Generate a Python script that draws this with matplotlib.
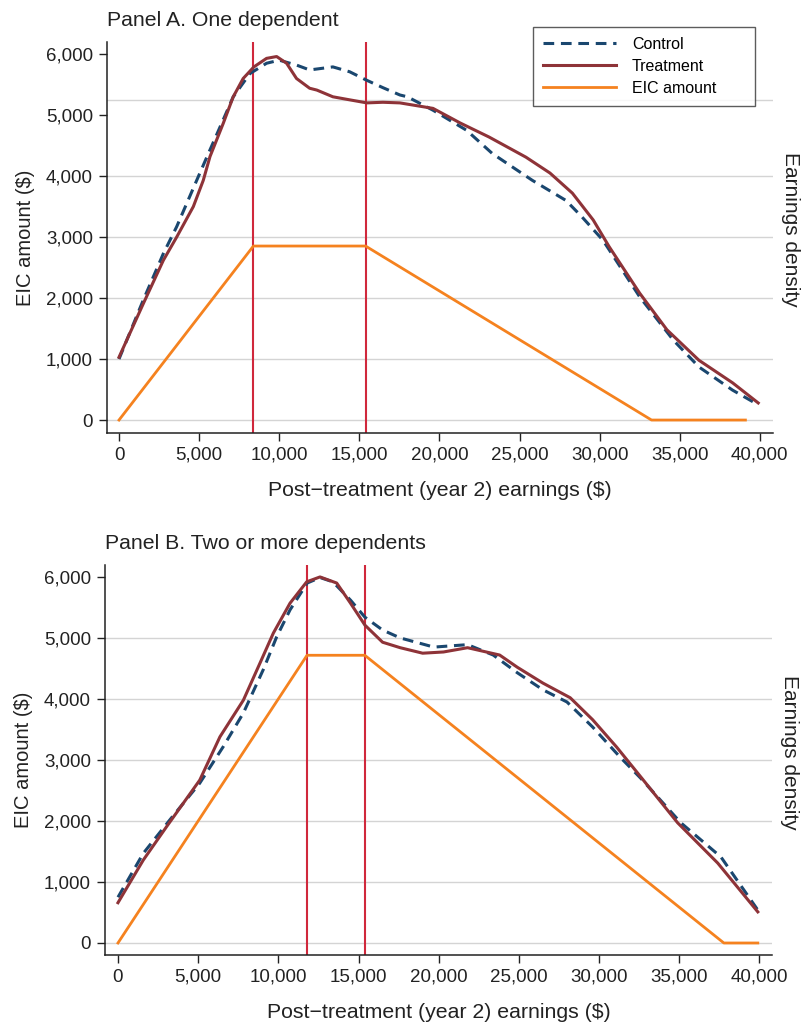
import matplotlib
matplotlib.use("Agg")
from matplotlib import pyplot as plt
import numpy as np

plt.rcParams['font.family'] = ['Liberation Sans', 'DejaVu Sans']

# ---- data (dollars, density shown on EIC scale) ----
# Panel A, one dependent
a_ctrl_x = [0, 1520, 2770, 3600, 4850, 5680, 6500, 7130, 8170, 9210, 10000, 11080, 11900,
            13350, 14400, 15470, 16470, 17530, 18000, 19600, 21700, 23300, 25800,
            27900, 28900, 30200, 30600, 32500, 34600, 36200, 38300, 39900]
a_ctrl_y = [1000, 1970, 2730, 3170, 3930, 4430, 4920, 5300, 5680, 5850, 5900, 5820, 5740,
            5790, 5710, 5570, 5450, 5330, 5300, 5080, 4750, 4370, 3930,
            3600, 3330, 2950, 2790, 2020, 1310, 870, 490, 250]
a_trt_x = [0, 1520, 2770, 3600, 4640, 5260, 5680, 6500, 7130, 7750, 8420, 9210, 9840,
           10460, 11080, 11900, 12350, 13350, 14400, 15470, 16470, 17530, 19600, 21300,
           23100, 25400, 26900, 28300, 29600, 30600, 32500, 34200, 36200, 38300, 39900]
a_trt_y = [1030, 1910, 2620, 3000, 3500, 3930, 4320, 4860, 5300, 5600, 5790, 5930, 5960,
           5850, 5600, 5440, 5410, 5300, 5250, 5200, 5210, 5200, 5110, 4870,
           4640, 4310, 4050, 3720, 3280, 2840, 2080, 1480, 980, 610, 280]
a_eic_x = [0, 8390, 15390, 33241, 39100]
a_eic_y = [0, 2853, 2853, 0, 0]
a_kinks = [8390, 15390]
a_grid = [0, 1000, 2000, 3000, 4000, 5250]

# Panel B, two or more dependents
b_ctrl_x = [0, 1580, 3240, 5100, 6570, 7820, 9060, 9900, 10730, 11800, 12600,
            13400, 14500, 15400, 16500, 17600, 19700, 21800, 23400, 24900, 26500,
            28000, 29600, 31300, 32600, 35100, 37600, 39900]
b_ctrl_y = [750, 1470, 2020, 2620, 3220, 3770, 4480, 5020, 5460, 5900, 5990,
            5920, 5620, 5340, 5130, 5000, 4850, 4890, 4720, 4430, 4150,
            3950, 3540, 3050, 2700, 1970, 1410, 540]
b_trt_x = [0, 1580, 3040, 5100, 6360, 7820, 8860, 9690, 10730, 11770, 12600,
           13640, 14500, 15400, 16500, 17600, 19000, 20300, 21800, 23800, 24900,
           26500, 28200, 29600, 31100, 32700, 34900, 37400, 39900]
b_trt_y = [660, 1360, 1910, 2670, 3380, 3980, 4590, 5080, 5570, 5920, 6000,
           5900, 5570, 5210, 4930, 4840, 4750, 4770, 4840, 4720, 4520,
           4260, 4020, 3660, 3210, 2690, 1970, 1310, 510]
b_eic_x = [0, 11790, 15390, 37783, 39900]
b_eic_y = [0, 4716, 4716, 0, 0]
b_kinks = [11790, 15390]
b_grid = [0, 1000, 2000, 3000, 4000, 5000]

x_ticks = np.arange(0, 40001, 5000)
y_ticks = np.arange(0, 6001, 1000)

navy = "#1a476f"
maroon = "#8e3338"
orange = "#f5821f"
red = "#d0283c"
txt = "#222222"

fig = plt.figure(figsize=(8.02, 10.32), dpi=100)

def panel(rect, title, cx, cy, tx, ty, ex, ey, kinks, grid, xlim, ylim, legend=False):
    ax = fig.add_axes(rect)
    for g in grid:
        ax.axhline(g, color="#d4d4d4", lw=1.0, zorder=0)
    for k in kinks:
        ax.axvline(k, color=red, lw=1.5, zorder=1)
    ax.plot(ex, ey, color=orange, lw=2.0, label="EIC amount", zorder=2)
    ax.plot(cx, cy, color=navy, lw=2.2, ls=(0, (3.5, 2.2)), label="Control", zorder=3)
    ax.plot(tx, ty, color=maroon, lw=2.2, label="Treatment", zorder=4)
    ax.set_xlim(*xlim)
    ax.set_ylim(*ylim)
    ax.set_xticks(x_ticks)
    ax.set_yticks(y_ticks)
    ax.set_xticklabels([f"{v:,}" for v in x_ticks])
    ax.set_yticklabels([f"{v:,}" for v in y_ticks])
    ax.tick_params(direction="out", length=6, width=1, colors=txt, labelsize=13.5, pad=4)
    for s in ["top", "right"]:
        ax.spines[s].set_visible(False)
    for s in ["left", "bottom"]:
        ax.spines[s].set_color(txt)
        ax.spines[s].set_linewidth(1.1)
    ax.set_xlabel("Post\u2212treatment (year 2) earnings ($)", fontsize=15.3, color=txt, labelpad=12)
    ax.set_ylabel("EIC amount ($)", fontsize=14.5, color=txt, labelpad=8)
    ax.text(1.012, 0.52, "Earnings density", transform=ax.transAxes, rotation=-90,
            ha="left", va="center", fontsize=15, color=txt)
    ax.text(0.0, 1.03, title, transform=ax.transAxes, ha="left", va="bottom",
            fontsize=15.3, color=txt)
    if legend:
        h, l = ax.get_legend_handles_labels()
        order = [1, 2, 0]
        leg = ax.legend([h[i] for i in order], [l[i] for i in order],
                        loc="upper left", bbox_to_anchor=(0.640, 0.834, 0.334, 0.204),
                        mode="expand", borderaxespad=0,
                        fontsize=11.5, frameon=True, fancybox=False, handlelength=4.6,
                        borderpad=0.6, labelspacing=0.45, handletextpad=1.0)
        leg.get_frame().set_edgecolor("#333333")
        leg.get_frame().set_linewidth(1.0)
        leg.set_zorder(10)
    return ax

panel([0.1334, 0.5804, 0.830, 0.379], "Panel A. One dependent",
      a_ctrl_x, a_ctrl_y, a_trt_x, a_trt_y, a_eic_x, a_eic_y, a_kinks, a_grid,
      (-750, 40800), (-213, 6200), legend=True)
panel([0.1309, 0.0746, 0.832, 0.378], "Panel B. Two or more dependents",
      b_ctrl_x, b_ctrl_y, b_trt_x, b_trt_y, b_eic_x, b_eic_y, b_kinks, b_grid,
      (-810, 40800), (-197, 6197))

fig.savefig("out.png", dpi=100)
